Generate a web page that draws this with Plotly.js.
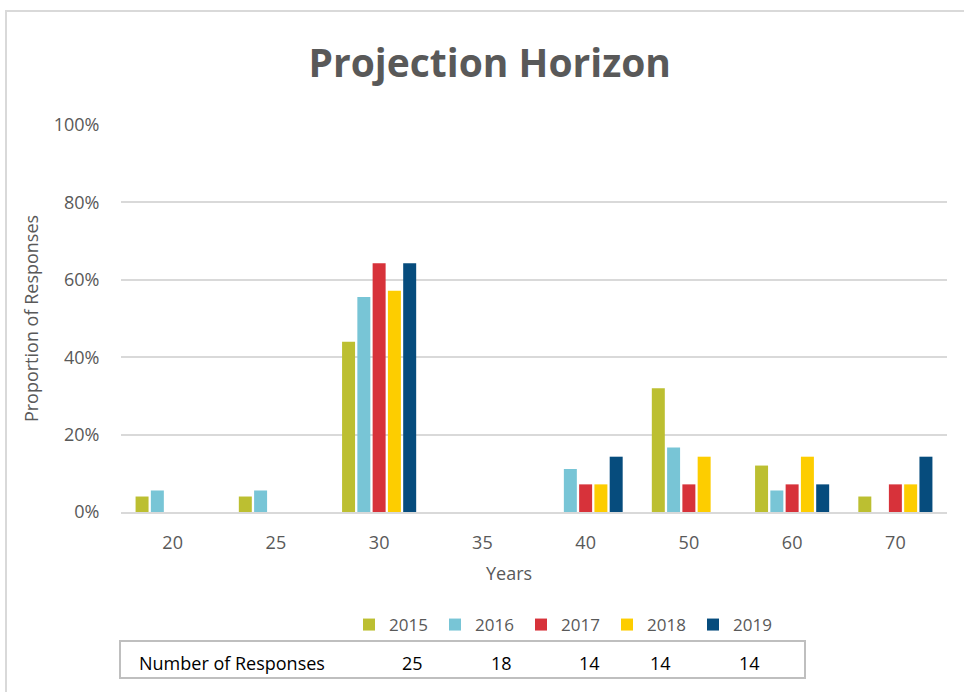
<!DOCTYPE html>
<html><head><meta charset="utf-8">
<script src="https://cdn.plot.ly/plotly-3.0.1.min.js"></script>
<style>
body{margin:0;padding:0;background:#fff;}
#wrap{position:relative;width:964px;height:692px;overflow:hidden;}
#chart{position:absolute;left:0;top:0;width:964px;height:692px;}
#frame{position:absolute;left:5px;top:10px;width:980px;height:700px;border:2px solid #d9d9d9;pointer-events:none;}
</style></head>
<body><div id="wrap"><div id="chart"></div><div id="frame"></div></div>
<script>
const categories = ['20','25','30','35','40','50','60','70'];
const years = ['2015','2016','2017','2018','2019'];
const colors = ['#bcbf31','#78c5d6','#d7323a','#fdcd00','#064c7d'];
const v2015 = [0.04, 0.04, 0.44, 0, 0, 0.32, 0.12, 0.04];
const v2016 = [0.0556, 0.0556, 0.5556, 0, 0.1111, 0.1667, 0.0556, 0];
const v2017 = [0, 0, 0.6429, 0, 0.0714, 0.0714, 0.0714, 0.0714];
const v2018 = [0, 0, 0.5714, 0, 0.0714, 0.1429, 0.1429, 0.0714];
const v2019 = [0, 0, 0.6429, 0, 0.1429, 0, 0.0714, 0.1429];
const responses = [25, 18, 14, 14, 14];
const tableLabel = 'Number of Responses';
const series = [v2015, v2016, v2017, v2018, v2019];

const font = "'Open Sans', sans-serif";
const traces = years.map((y, i) => ({
  type: 'bar', name: y, x: categories, y: series[i],
  marker: {color: colors[i]}, hoverinfo: 'none'
}));

const respX = [412, 501, 589, 660, 749];
const W = 964, H = 692, L = 121, R = 17, T = 125, B = 180;
const pw = W - L - R, ph = H - T - B;
const px = x => (x - L) / pw;
const py = y => (H - B - y) / ph;

const annotations = [
  {xref:'paper', yref:'paper', x:px(509), y:py(573), text:'Years', showarrow:false,
   font:{family:font, size:18, color:'#595959'}, xanchor:'center', yanchor:'middle'},
  {xref:'paper', yref:'paper', x:px(137), y:py(663), text:tableLabel, showarrow:false,
   font:{family:font, size:18, color:'#000'}, xanchor:'left', yanchor:'middle'}
];
responses.forEach((r, i) => annotations.push({
  xref:'paper', yref:'paper', x:px(respX[i]), y:py(663), text:String(r), showarrow:false,
  font:{family:font, size:18, color:'#000'}, xanchor:'center', yanchor:'middle'
}));

const layout = {
  width: W, height: H,
  margin: {l: L, r: R, t: T, b: B},
  paper_bgcolor: '#fff', plot_bgcolor: '#fff',
  title: {text: 'Projection Horizon', x: 0.508, xanchor: 'center', y: 0.908, yanchor: 'middle',
    font: {family: font, size: 39, color: '#595959', weight: 'bold'}},
  barmode: 'group', bargap: 0.26, bargroupgap: 0.15,
  font: {family: font, color: '#595959', size: 18},
  xaxis: {type: 'category', showline: true, linecolor: '#d9d9d9', linewidth: 2,
    ticks: 'outside', ticklen: 13, tickcolor: 'rgba(0,0,0,0)', showgrid: false,
    tickfont: {family: font, size: 18, color: '#595959'}, fixedrange: true},
  yaxis: {range: [0, 1], dtick: 0.2, tickformat: '.0%', gridcolor: '#d9d9d9', gridwidth: 2,
    zeroline: false, ticks: 'outside', ticklen: 17, tickcolor: 'rgba(0,0,0,0)',
    tickfont: {family: font, size: 18, color: '#595959'},
    title: {text: 'Proportion of Responses', standoff: 10, font: {family: font, size: 18, color: '#595959'}},
    fixedrange: true},
  showlegend: true,
  legend: {orientation: 'h', xref: 'paper', yref: 'paper', x: px(349), y: py(607), xanchor: 'left', yanchor: 'top',
    bgcolor: 'rgba(0,0,0,0)',
    font: {family: font, size: 17, color: '#595959'}, entrywidth: 41, entrywidthmode: 'pixels',
    itemwidth: 30, traceorder: 'normal'},
  shapes: [
    {type: 'rect', xref: 'paper', yref: 'paper', x0: px(120), x1: px(805), y0: py(641), y1: py(678),
     line: {color: '#bfbfbf', width: 2}, fillcolor: 'rgba(0,0,0,0)'}
  ],
  annotations: annotations
};
Plotly.newPlot('chart', traces, layout, {displayModeBar: false, staticPlot: true});
</script></body></html>
